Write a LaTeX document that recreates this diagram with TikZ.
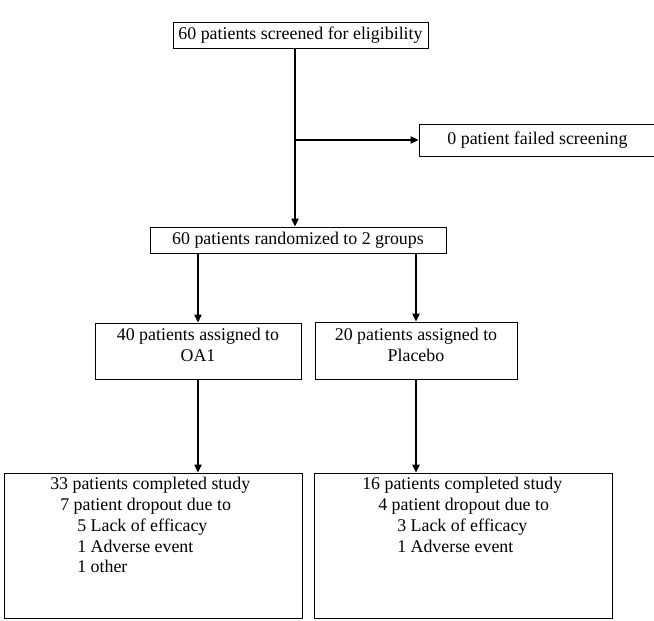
\documentclass[tikz,border=0pt]{standalone}
\usepackage{fontspec}
\setmainfont{Liberation Serif}
\usetikzlibrary{arrows.meta}

\begin{document}
\begin{tikzpicture}[x=0.75pt, y=-0.75pt, font=\fontsize{13.4}{15.6}\selectfont]
  \def\u{0.75pt}                 % one pixel of the reference
  % pin the page to the 654 x 621 reference; the screening-failure box runs
  % off its right edge there, so it does here too
  \useasboundingbox (0,0) rectangle (654,621);
  \tikzset{
    box/.style={draw, line width=0.75pt, inner sep=0pt},
    boxtxt/.style={inner sep=0pt, anchor=north},
    arr/.style={line width=1pt, -{Triangle[length=6pt, width=5.5pt]}}}

  % ========== ENROLMENT ==========
  \node[box, minimum width=255*\u, minimum height=26*\u] (screen) at (300.5,35)
    {60 patients screened for eligibility};
  \node[box, minimum width=237*\u, minimum height=32*\u] (fail) at (537.5,140)
    {0 patient failed screening};
  \node[box, minimum width=296*\u, minimum height=26*\u] (rand) at (298,240)
    {60 patients randomized to 2 groups};
  \coordinate (split) at (295,140);

  % ========== ALLOCATION: text sits high in the boxes ==========
  \node[box, minimum width=206*\u, minimum height=56*\u] (oa) at (198,351) {};
  \node[boxtxt, align=center] (oatxt) at (198,328)
    {40 patients assigned to\\OA1};
  \node[box, minimum width=202*\u, minimum height=57*\u] (plc) at (416,350.5) {};
  \node[boxtxt, align=center] (plctxt) at (416,328)
    {20 patients assigned to\\Placebo};

  % ========== COMPLETION: ragged indents as printed ==========
  \node[box, minimum width=298*\u, minimum height=145*\u] (doneoa) at (153,545.5) {};
  \node[boxtxt, anchor=north west, align=left] (doneoatxt) at (50,477)
    {33 patients completed study\\
     \hspace*{7.5pt}7 patient dropout due to\\
     \hspace*{20.25pt}5 Lack of efficacy\\
     \hspace*{20.25pt}1 Adverse event\\
     \hspace*{20.25pt}1 other};
  \node[box, minimum width=298*\u, minimum height=145*\u] (doneplc) at (463,545.5) {};
  \node[boxtxt, anchor=north west, align=left] (doneplctxt) at (362,477)
    {16 patients completed study\\
     \hspace*{12pt}4 patient dropout due to\\
     \hspace*{26.25pt}3 Lack of efficacy\\
     \hspace*{26.25pt}1 Adverse event};

  % --- connectors ---
  \draw[arr] (screen.south -| split) -- (rand.north -| split);
  \draw[arr] (split) -- (fail.west);
  \draw[arr] (rand.south -| oa.north) -- (oa.north);
  \draw[arr] (rand.south -| plc.north) -- (plc.north);
  \draw[arr] (oa.south) -- (oa.south |- doneoa.north);
  \draw[arr] (plc.south) -- (plc.south |- doneplc.north);
\end{tikzpicture}
\end{document}
